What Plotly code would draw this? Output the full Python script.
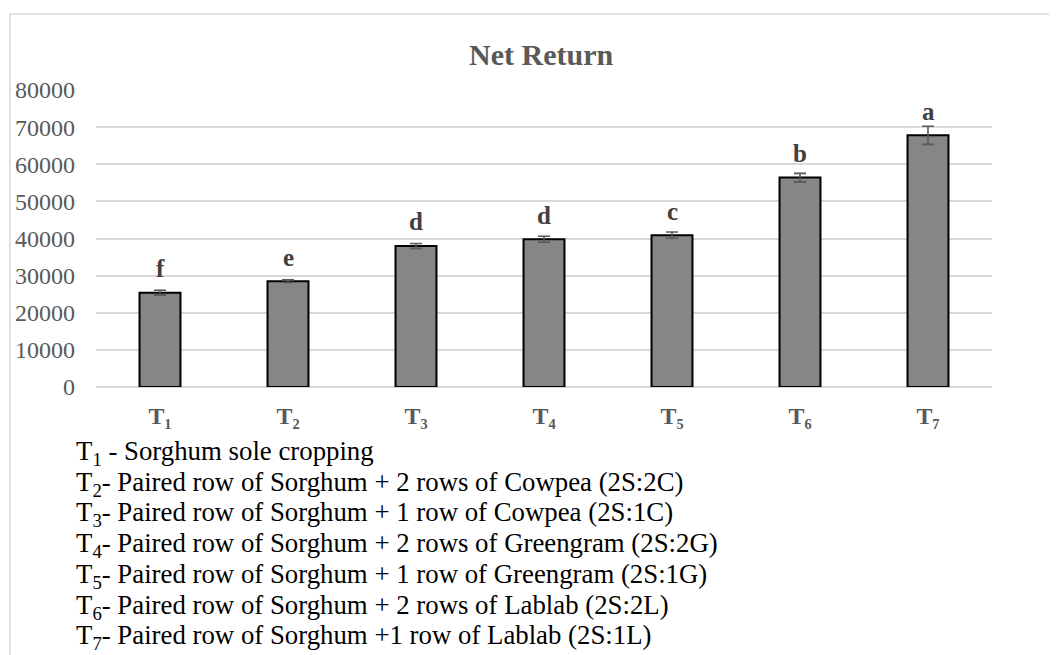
import plotly.graph_objects as go

categories = ["T₁", "T₂", "T₃", "T₄", "T₅", "T₆", "T₇"]
net_return = [25400, 28500, 38000, 39800, 40900, 56400, 67800]
std_error = [650, 360, 650, 800, 850, 1150, 2450]
letters = ["f", "e", "d", "d", "c", "b", "a"]
y_ticks = [0, 10000, 20000, 30000, 40000, 50000, 60000, 70000, 80000]
legend_lines = [
    "T<sub>1</sub> - Sorghum sole cropping",
    "T<sub>2</sub>- Paired row of Sorghum + 2 rows of Cowpea (2S:2C)",
    "T<sub>3</sub>- Paired row of Sorghum + 1 row of Cowpea (2S:1C)",
    "T<sub>4</sub>- Paired row of Sorghum + 2 rows of Greengram (2S:2G)",
    "T<sub>5</sub>- Paired row of Sorghum + 1 row of Greengram (2S:1G)",
    "T<sub>6</sub>- Paired row of Sorghum + 2 rows of Lablab (2S:2L)",
    "T<sub>7</sub>- Paired row of Sorghum +1 row of Lablab (2S:1L)",
]

SERIF = "Liberation Serif, Times New Roman, serif"
OFF = 8  # page body margin
W, H = 1057 - OFF, 655 - OFF
L, R, T = 96 - OFF, 1057 - 992, 90 - OFF
B = H - (387 - OFF)
pw, ph = W - L - R, H - T - B


def px_to_paper(xp, yp):
    # xp, yp are screenshot pixel coordinates
    return (xp - OFF - L) / pw, 1 - (yp - OFF - T) / ph


fig = go.Figure()
fig.add_trace(go.Bar(
    x=categories, y=net_return, width=0.32,
    marker=dict(color="#868686", line=dict(color="#000000", width=2)),
    error_y=dict(type="data", array=std_error, visible=True,
                 color="#595959", thickness=1.6, width=6),
    hoverinfo="x+y",
))

for c, v, lt in zip(categories, net_return, letters):
    fig.add_annotation(x=c, y=v, text=f"<b>{lt}</b>", showarrow=False,
                       yanchor="middle", yshift=24,
                       font=dict(family=SERIF, size=25, color="#404040"))

# title
tx, ty = px_to_paper(541, 54)
fig.add_annotation(xref="paper", yref="paper", x=tx, y=ty, text="<b>Net Return</b>",
                   showarrow=False, xanchor="center", yanchor="middle",
                   font=dict(family=SERIF, size=30, color="#595959"))

# legend text lines
for i, line in enumerate(legend_lines):
    lx, ly = px_to_paper(74, 453 + i * 30.7)
    fig.add_annotation(xref="paper", yref="paper", x=lx, y=ly, text=line,
                       showarrow=False, xanchor="left", yanchor="middle",
                       font=dict(family=SERIF, size=26.8, color="#000000"))

# chart border (left and top visible)
x0, y0 = px_to_paper(10, 14)
x1, y1 = px_to_paper(1080, 680)
fig.add_shape(type="rect", xref="paper", yref="paper", x0=x0, y0=y1, x1=x1, y1=y0,
              line=dict(color="#d9d9d9", width=1.5), fillcolor="rgba(0,0,0,0)", layer="below")

fig.update_layout(
    width=W, height=H,
    margin=dict(l=L, r=R, t=T, b=B, autoexpand=False),
    paper_bgcolor="white", plot_bgcolor="white",
    showlegend=False,
)
fig.update_xaxes(
    tickfont=dict(family=SERIF, size=24, color="#595959", weight="bold"),
    showgrid=False, showline=False, ticks="", ticklabelstandoff=12,
)
fig.update_yaxes(
    range=[0, 80000], tickvals=y_ticks, ticktext=[str(t) for t in y_ticks],
    tickfont=dict(family=SERIF, size=24, color="#595959"),
    showgrid=True, gridcolor="#d9d9d9", gridwidth=1.5,
    zeroline=True, zerolinecolor="#d9d9d9", zerolinewidth=1.5,
    showline=False, ticks="", ticklabelstandoff=20,
)

fig.write_html("out.html")
